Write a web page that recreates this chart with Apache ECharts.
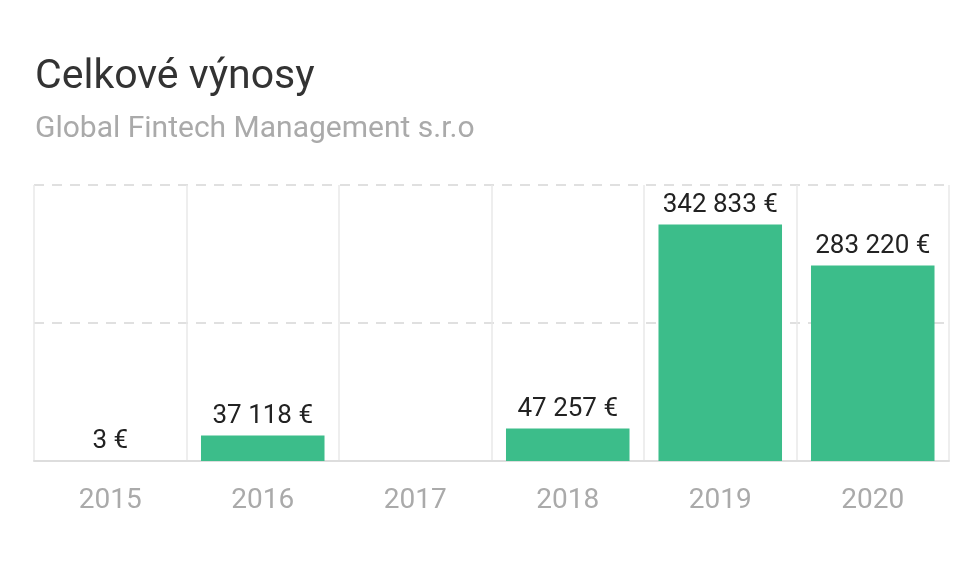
<!DOCTYPE html>
<html><head><meta charset="utf-8">
<script src="https://cdn.jsdelivr.net/npm/echarts@6/dist/echarts.min.js"></script>
<style>html,body{margin:0;padding:0;background:#fff;}#c{width:970px;height:586px;}</style>
</head><body><div id="c"></div>
<script>
const titleText = 'Celkové výnosy';
const subtitleText = 'Global Fintech Management s.r.o';
const years = ['2015','2016','2017','2018','2019','2020'];
const revenues = [3, 37118, null, 47257, 342833, 283220];
const yMax = 400000;
const yInterval = 200000;

function fmt(v){
  return String(Math.round(v)).replace(/\B(?=(\d{3})+(?!\d))/g,' ') + ' €';
}
const chart = echarts.init(document.getElementById('c'));
chart.setOption({
  backgroundColor:'#fff',
  animation:false,
  title:{
    text:titleText, subtext:subtitleText, left:30, top:52, itemGap:16,
    textStyle:{fontFamily:'Roboto', fontSize:41, fontWeight:'normal', color:'#333'},
    subtextStyle:{fontFamily:'Roboto', fontSize:30, color:'#aaa'}
  },
  grid:{left:34, right:21, top:185, bottom:125},
  xAxis:{
    type:'category', data:years,
    axisLine:{lineStyle:{color:'#ddd', width:2}},
    axisTick:{show:false},
    splitLine:{show:true, lineStyle:{color:'#e8e8e8', width:1.5}},
    axisLabel:{fontFamily:'Roboto', fontSize:28, color:'#aaa', margin:26}
  },
  yAxis:{
    type:'value', min:0, max:yMax, interval:yInterval,
    axisLabel:{show:false}, axisLine:{show:false}, axisTick:{show:false},
    splitLine:{show:true, lineStyle:{color:'#e0e0e0', type:[10,8], width:2}}
  },
  series:[{
    type:'bar', data:revenues, barWidth:'81%',
    itemStyle:{color:'#3cbd8a'},
    label:{show:true, position:'top', distance:6, fontFamily:'Roboto', fontSize:26, color:'#222',
      formatter:p=>p.value==null?'':fmt(p.value)}
  }]
});
</script></body></html>
